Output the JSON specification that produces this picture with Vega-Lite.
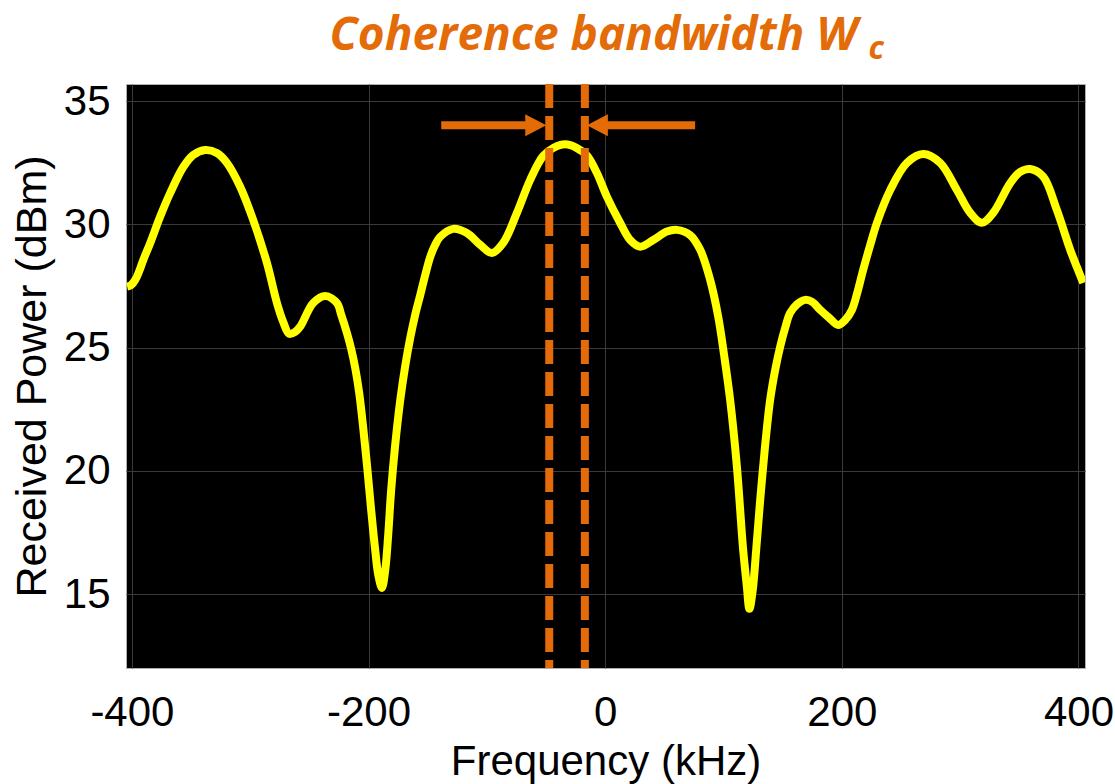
{
  "$schema": "https://vega.github.io/schema/vega-lite/v6.json",
  "autosize": {"type": "none"},
  "padding": {"left": 126, "top": 84, "right": 30, "bottom": 116},
  "width": 959,
  "height": 584,
  "background": "white",
  "config": {
    "view": {"fill": "black", "stroke": "#b0b0b0", "strokeWidth": 1},
    "font": "Liberation Sans"
  },
  "title": {
    "text": "Coherence bandwidth W",
    "font": "Open Sans",
    "fontSize": 46,
    "fontStyle": "italic",
    "fontWeight": "bold",
    "color": "#E36C09",
    "anchor": "middle",
    "baseline": "alphabetic",
    "offset": -63,
    "dx": -12
  },
  "datasets": {
    "curve": [
      {"f": -404.0, "p": 27.48},
      {"f": -400.6, "p": 27.54},
      {"f": -397.2, "p": 27.75},
      {"f": -393.8, "p": 28.11},
      {"f": -390.4, "p": 28.56},
      {"f": -384.5, "p": 29.25},
      {"f": -376.1, "p": 30.32},
      {"f": -367.6, "p": 31.28},
      {"f": -356.6, "p": 32.33},
      {"f": -348.2, "p": 32.82},
      {"f": -338.0, "p": 33.02},
      {"f": -328.2, "p": 32.90},
      {"f": -319.7, "p": 32.50},
      {"f": -308.5, "p": 31.53},
      {"f": -297.5, "p": 30.18},
      {"f": -285.9, "p": 28.44},
      {"f": -277.4, "p": 26.81},
      {"f": -272.1, "p": 26.04},
      {"f": -267.1, "p": 25.56},
      {"f": -262.0, "p": 25.64},
      {"f": -257.8, "p": 25.85},
      {"f": -246.8, "p": 26.81},
      {"f": -236.6, "p": 27.10},
      {"f": -226.7, "p": 26.81},
      {"f": -223.1, "p": 26.33},
      {"f": -218.3, "p": 25.60},
      {"f": -214.7, "p": 24.95},
      {"f": -211.3, "p": 24.18},
      {"f": -207.9, "p": 23.16},
      {"f": -204.5, "p": 21.74},
      {"f": -201.1, "p": 20.12},
      {"f": -197.8, "p": 18.41},
      {"f": -194.4, "p": 16.79},
      {"f": -191.8, "p": 15.78},
      {"f": -188.7, "p": 15.25},
      {"f": -185.9, "p": 15.98},
      {"f": -183.4, "p": 17.40},
      {"f": -180.9, "p": 19.22},
      {"f": -177.5, "p": 21.05},
      {"f": -173.2, "p": 22.88},
      {"f": -169.0, "p": 24.26},
      {"f": -164.8, "p": 25.39},
      {"f": -160.6, "p": 26.33},
      {"f": -156.3, "p": 27.14},
      {"f": -152.1, "p": 27.95},
      {"f": -147.9, "p": 28.68},
      {"f": -143.7, "p": 29.17},
      {"f": -139.4, "p": 29.50},
      {"f": -128.5, "p": 29.82},
      {"f": -116.9, "p": 29.65},
      {"f": -105.6, "p": 29.17},
      {"f": -95.8, "p": 28.84},
      {"f": -86.2, "p": 29.25},
      {"f": -74.6, "p": 30.47},
      {"f": -63.4, "p": 31.81},
      {"f": -52.4, "p": 32.78},
      {"f": -43.9, "p": 33.10},
      {"f": -33.8, "p": 33.25},
      {"f": -23.9, "p": 33.10},
      {"f": -15.5, "p": 32.80},
      {"f": -7.0, "p": 32.09},
      {"f": 1.4, "p": 31.13},
      {"f": 12.7, "p": 30.06},
      {"f": 21.1, "p": 29.37},
      {"f": 29.6, "p": 29.10},
      {"f": 40.6, "p": 29.37},
      {"f": 52.1, "p": 29.71},
      {"f": 60.6, "p": 29.78},
      {"f": 71.8, "p": 29.57},
      {"f": 80.3, "p": 28.97},
      {"f": 88.7, "p": 27.75},
      {"f": 95.5, "p": 26.26},
      {"f": 100.6, "p": 24.66},
      {"f": 105.6, "p": 22.88},
      {"f": 111.3, "p": 20.17},
      {"f": 116.6, "p": 16.79},
      {"f": 119.6, "p": 15.37},
      {"f": 121.9, "p": 14.40},
      {"f": 124.7, "p": 15.17},
      {"f": 127.6, "p": 16.79},
      {"f": 131.0, "p": 18.82},
      {"f": 135.2, "p": 21.05},
      {"f": 139.4, "p": 22.88},
      {"f": 143.7, "p": 24.10},
      {"f": 147.9, "p": 25.04},
      {"f": 152.1, "p": 25.80},
      {"f": 156.3, "p": 26.41},
      {"f": 162.3, "p": 26.77},
      {"f": 169.0, "p": 26.94},
      {"f": 174.9, "p": 26.86},
      {"f": 181.7, "p": 26.53},
      {"f": 189.3, "p": 26.21},
      {"f": 196.9, "p": 25.92},
      {"f": 202.8, "p": 26.12},
      {"f": 208.5, "p": 26.53},
      {"f": 213.0, "p": 27.22},
      {"f": 218.0, "p": 28.15},
      {"f": 224.0, "p": 29.17},
      {"f": 229.6, "p": 30.06},
      {"f": 240.9, "p": 31.40},
      {"f": 255.0, "p": 32.50},
      {"f": 268.7, "p": 32.86},
      {"f": 283.1, "p": 32.50},
      {"f": 297.2, "p": 31.40},
      {"f": 308.5, "p": 30.47},
      {"f": 318.3, "p": 30.07},
      {"f": 327.9, "p": 30.47},
      {"f": 342.3, "p": 31.68},
      {"f": 350.7, "p": 32.13},
      {"f": 359.2, "p": 32.25},
      {"f": 370.2, "p": 31.94},
      {"f": 381.7, "p": 30.59},
      {"f": 393.0, "p": 28.97},
      {"f": 398.9, "p": 28.24},
      {"f": 404.0, "p": 27.63}
    ],
    "bounds": [{"f": -47.3}, {"f": -17.2}],
    "shafts": [
      {"f": -138.6, "f2": -60, "p": 34.03},
      {"f": -8, "f2": 76, "p": 34.03}
    ],
    "headRight": [{"f": -58.7, "p": 34.03}],
    "headLeft": [{"f": -6.6, "p": 34.03}],
    "sub": [{"f": 222.5, "p": 36.72, "t": "c"}]
  },
  "layer": [
    {
      "data": {"name": "curve"},
      "mark": {"type": "line", "color": "#FFFF00", "strokeWidth": 8, "interpolate": "catmull-rom", "clip": true},
      "encoding": {
        "x": {
          "field": "f", "type": "quantitative",
          "scale": {"domain": [-405, 405.5], "nice": false, "zero": false},
          "axis": {
            "values": [-400, -200, 0, 200, 400],
            "labelExpr": "toString(datum.value)",
            "title": "Frequency (kHz)",
            "titleFont": "Liberation Sans",
            "titleFontSize": 42,
            "titleFontWeight": "normal",
            "titleColor": "black",
            "titlePadding": 8,
            "labelFont": "Liberation Sans",
            "labelFontSize": 42,
            "labelColor": "black",
            "labelPadding": 24,
            "labelFlush": false,
            "ticks": false,
            "domain": false,
            "grid": true,
            "gridColor": "#3a3a3a",
            "gridWidth": 1
          }
        },
        "y": {
          "field": "p", "type": "quantitative",
          "scale": {"domain": [12, 35.7], "nice": false, "zero": false},
          "axis": {
            "values": [15, 20, 25, 30, 35],
            "title": "Received Power (dBm)",
            "titleFont": "Liberation Sans",
            "titleFontSize": 43,
            "titleFontWeight": "normal",
            "titleColor": "black",
            "titlePadding": 9,
            "labelFont": "Liberation Sans",
            "labelFontSize": 42,
            "labelColor": "black",
            "labelPadding": 16,
            "ticks": false,
            "domain": false,
            "grid": true,
            "gridColor": "#3a3a3a",
            "gridWidth": 1
          }
        }
      }
    },
    {
      "data": {"name": "bounds"},
      "mark": {"type": "rule", "color": "#E36C09", "strokeWidth": 8, "strokeDash": [24, 8]},
      "encoding": {"x": {"field": "f", "type": "quantitative"}}
    },
    {
      "data": {"name": "shafts"},
      "mark": {"type": "rule", "color": "#E36C09", "strokeWidth": 8},
      "encoding": {
        "x": {"field": "f", "type": "quantitative"},
        "x2": {"field": "f2"},
        "y": {"field": "p", "type": "quantitative"}
      }
    },
    {
      "data": {"name": "headRight"},
      "mark": {"type": "point", "shape": "M-1,-1.05L1,0L-1,1.05Z", "size": 441, "filled": true, "color": "#E36C09", "opacity": 1},
      "encoding": {
        "x": {"field": "f", "type": "quantitative"},
        "y": {"field": "p", "type": "quantitative"}
      }
    },
    {
      "data": {"name": "headLeft"},
      "mark": {"type": "point", "shape": "M1,-1.05L-1,0L1,1.05Z", "size": 441, "filled": true, "color": "#E36C09", "opacity": 1},
      "encoding": {
        "x": {"field": "f", "type": "quantitative"},
        "y": {"field": "p", "type": "quantitative"}
      }
    },
    {
      "data": {"name": "sub"},
      "mark": {"type": "text", "font": "Open Sans", "fontSize": 32, "fontStyle": "italic", "fontWeight": "bold", "color": "#E36C09", "align": "left", "baseline": "alphabetic"},
      "encoding": {
        "x": {"field": "f", "type": "quantitative"},
        "y": {"field": "p", "type": "quantitative"},
        "text": {"field": "t"}
      }
    }
  ]
}
